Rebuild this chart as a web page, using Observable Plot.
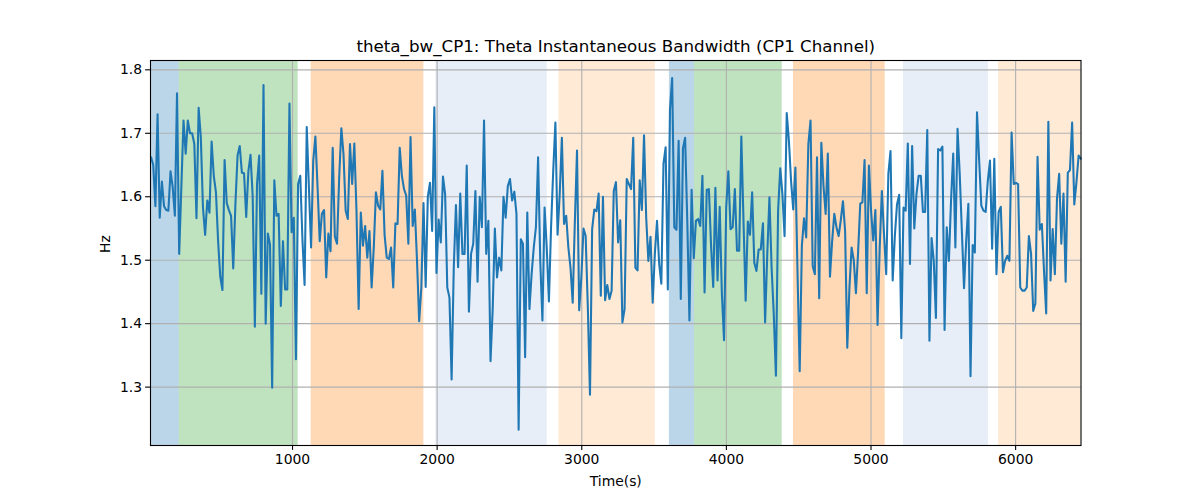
<!DOCTYPE html>
<html>
<head>
<meta charset="utf-8">
<script src="https://cdn.jsdelivr.net/npm/d3@7"></script>
<script src="https://cdn.jsdelivr.net/npm/@observablehq/plot@0.6"></script>
<style>
  html, body { margin: 0; padding: 0; background: #fff; }
  #chart svg { display: block; }
</style>
</head>
<body>
<div id="chart"></div>
<script>
const titleText = "theta_bw_CP1: Theta Instantaneous Bandwidth (CP1 Channel)";
const xLabel = "Time(s)";
const yLabel = "Hz";
const xTicks = [1000, 2000, 3000, 4000, 5000, 6000];
const yTicks = [1.3, 1.4, 1.5, 1.6, 1.7, 1.8];

// sampling of the series (uniform in time)
const tStart = 22;
const tStep = 14.95;

// theta bandwidth values (Hz)
const bandwidth = [
  1.662, 1.65, 1.585, 1.73, 1.567, 1.624, 1.585, 1.579, 1.578, 1.64,
  1.615, 1.57, 1.763, 1.51, 1.615, 1.72, 1.668, 1.72, 1.70, 1.70,
  1.683, 1.566, 1.74, 1.694, 1.583, 1.54, 1.594, 1.575, 1.687, 1.633,
  1.607, 1.53, 1.474, 1.453, 1.658, 1.59, 1.579, 1.57, 1.487, 1.588,
  1.665, 1.68, 1.638, 1.637, 1.568, 1.64, 1.666, 1.60, 1.395, 1.62,
  1.665, 1.447, 1.776, 1.40, 1.542, 1.525, 1.299, 1.626, 1.57, 1.573,
  1.428, 1.53, 1.454, 1.454, 1.747, 1.544, 1.567, 1.344, 1.62, 1.633,
  1.533, 1.461, 1.71,
  1.615, 1.52, 1.657, 1.695, 1.615, 1.53, 1.573, 1.579, 1.473, 1.542,
  1.514, 1.677, 1.537, 1.526, 1.63, 1.708, 1.667, 1.578, 1.565, 1.683,
  1.62, 1.684, 1.578, 1.423, 1.575, 1.523, 1.554, 1.504, 1.546, 1.457,
  1.52, 1.607, 1.586, 1.58, 1.641, 1.54, 1.504, 1.502, 1.52, 1.457,
  1.558, 1.557, 1.677, 1.633, 1.612, 1.602, 1.526, 1.694, 1.554, 1.58,
  1.499, 1.404, 1.457, 1.59, 1.458, 1.60, 1.622, 1.546, 1.741, 1.48,
  1.564, 1.528, 1.632, 1.604, 1.457, 1.441, 1.312, 1.488, 1.587,
  1.489, 1.605, 1.51, 1.51, 1.649, 1.419, 1.51, 1.526, 1.609, 1.466,
  1.60, 1.552, 1.72, 1.51, 1.562, 1.341, 1.423, 1.55, 1.473, 1.504,
  1.484, 1.60, 1.567, 1.617, 1.628, 1.594, 1.608, 1.573, 1.233, 1.533,
  1.526, 1.347, 1.575, 1.423, 1.478, 1.52, 1.552, 1.662, 1.499, 1.405,
  1.583, 1.52, 1.435, 1.552, 1.641, 1.717, 1.54, 1.604, 1.693, 1.557,
  1.57, 1.52, 1.488, 1.433, 1.56, 1.673, 1.421, 1.473, 1.55, 1.538,
  1.426, 1.288, 1.549, 1.58, 1.577, 1.605, 1.444, 1.60, 1.437, 1.461,
  1.439, 1.452,
  1.609, 1.623, 1.528, 1.563, 1.402, 1.423, 1.628, 1.62, 1.612, 1.693,
  1.488, 1.484, 1.626, 1.579, 1.697, 1.567, 1.499, 1.537, 1.433, 1.51,
  1.562, 1.494, 1.463, 1.652, 1.678, 1.454, 1.737, 1.787, 1.552, 1.548,
  1.688, 1.439, 1.676, 1.693, 1.562, 1.405, 1.611, 1.503, 1.562, 1.565,
  1.554, 1.633, 1.449, 1.611, 1.612, 1.523, 1.458, 1.614, 1.468, 1.584,
  1.447, 1.374, 1.583, 1.64, 1.549, 1.552, 1.612, 1.515, 1.515, 1.695,
  1.562, 1.436, 1.561, 1.54, 1.607, 1.496, 1.483, 1.517, 1.517, 1.558,
  1.402,
  1.51, 1.599, 1.488, 1.415, 1.318, 1.578, 1.645, 1.604, 1.538, 1.732,
  1.688, 1.625, 1.58, 1.646, 1.478, 1.325, 1.523, 1.566, 1.536, 1.683,
  1.72, 1.491, 1.478, 1.662, 1.44, 1.685, 1.617, 1.573, 1.668, 1.474,
  1.53, 1.573, 1.552, 1.538, 1.563, 1.593, 1.546, 1.362, 1.457, 1.52,
  1.5, 1.448, 1.512, 1.589, 1.591, 1.658, 1.448, 1.649, 1.578, 1.531,
  1.579, 1.398, 1.52, 1.609, 1.54, 1.478, 1.636, 1.672, 1.468, 1.538,
  1.588, 1.603, 1.377, 1.583, 1.578, 1.684, 1.494, 1.68, 1.55, 1.604,
  1.633,
  1.633, 1.576, 1.576, 1.705, 1.373, 1.535, 1.499, 1.409, 1.675, 1.673,
  1.679, 1.39, 1.552, 1.499, 1.595, 1.668, 1.52, 1.707, 1.636, 1.546,
  1.456, 1.53, 1.589, 1.317, 1.524, 1.512, 1.733, 1.657, 1.586, 1.578,
  1.576, 1.625, 1.657, 1.518, 1.66, 1.478, 1.576, 1.584, 1.481, 1.499,
  1.507, 1.499, 1.701, 1.62, 1.622, 1.62, 1.457, 1.452, 1.452, 1.457,
  1.538, 1.51, 1.42, 1.432, 1.663, 1.548, 1.557, 1.483, 1.416, 1.718,
  1.468, 1.549, 1.478, 1.597, 1.636, 1.526, 1.605, 1.466, 1.638, 1.642,
  1.717, 1.588, 1.623, 1.665, 1.66
];

// shaded state segments
const segStart = [18, 217, 1129, 1991, 2842, 3606, 3779, 4464, 5224, 5882];
const segEnd   = [217, 1039, 1908, 2761, 3509, 3779, 4386, 5098, 5812, 6452];
const segColor = ["#1f77b4", "#2ca02c", "#ff7f0e", "#aec7e8", "#ffbb78",
                  "#1f77b4", "#2ca02c", "#ff7f0e", "#aec7e8", "#ffbb78"];

const xDomain = [18, 6452];
const yDomain = [1.208, 1.8147];

const series = bandwidth.map((v, i) => ({t: tStart + i * tStep, v}));
const segments = segStart.map((s, i) => ({start: s, end: segEnd[i], color: segColor[i]}));

const chart = Plot.plot({
  width: 1200,
  height: 500,
  marginLeft: 150,
  marginRight: 119.5,
  marginTop: 60,
  marginBottom: 55,
  style: {fontFamily: "'DejaVu Sans', sans-serif", fontSize: "13.9px", color: "#000", background: "#fff"},
  x: {domain: xDomain, ticks: xTicks, label: null, tickFormat: d => String(d)},
  y: {domain: yDomain, ticks: yTicks, label: null, tickFormat: d => d.toFixed(1)},
  marks: [
    Plot.rect(segments, {x1: "start", x2: "end", fill: "color", fillOpacity: 0.3}),
    Plot.gridX(xTicks, {stroke: "#b0b0b0", strokeOpacity: 1, strokeWidth: 1.1}),
    Plot.gridY(yTicks, {stroke: "#b0b0b0", strokeOpacity: 1, strokeWidth: 1.1}),
    Plot.line(series, {x: "t", y: "v", stroke: "#1f77b4", strokeWidth: 2.08}),
    Plot.frame({stroke: "#000", strokeWidth: 1.1}),
    Plot.axisX(xTicks, {tickSize: 4.9, tickPadding: 3.5, stroke: "#000", strokeWidth: 1.1, fontSize: 13.9, tickFormat: d => String(d)}),
    Plot.axisY(yTicks, {tickSize: 4.9, tickPadding: 3.5, stroke: "#000", strokeWidth: 1.1, fontSize: 13.9, tickFormat: d => d.toFixed(1)}),
    Plot.text([titleText], {frameAnchor: "top", dy: -14, fontSize: 16.7, lineAnchor: "middle", fill: "#000"}),
    Plot.text([xLabel], {frameAnchor: "bottom", dy: 36, fontSize: 13.9, lineAnchor: "middle", fill: "#000"}),
    Plot.text([yLabel], {frameAnchor: "left", dx: -45, rotate: -90, fontSize: 13.9, lineAnchor: "middle", fill: "#000"})
  ]
});
document.getElementById("chart").appendChild(chart);
</script>
</body>
</html>
